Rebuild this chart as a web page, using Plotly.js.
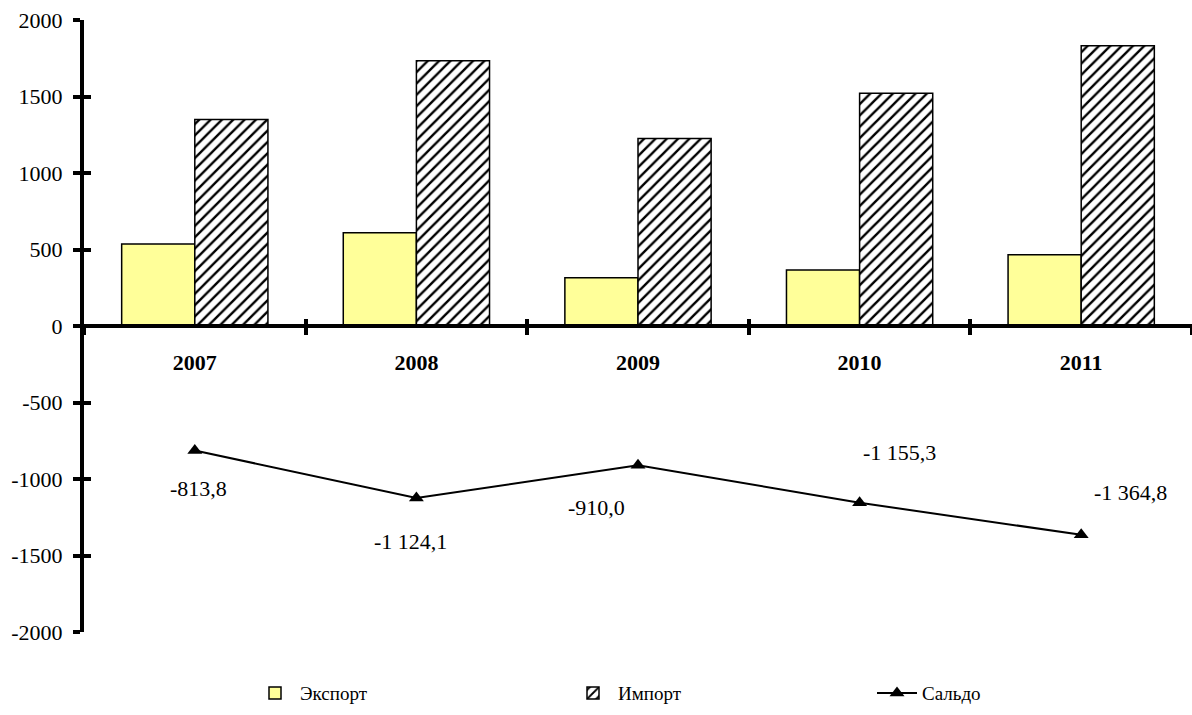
<!DOCTYPE html>
<html>
<head>
<meta charset="utf-8">
<script src="https://cdn.plot.ly/plotly-3.0.1.min.js"></script>
<style>html,body{margin:0;padding:0;background:#fff;}#chart{width:1192px;height:715px;}</style>
</head>
<body>
<div id="chart"></div>
<script>
const years = ['2007', '2008', '2009', '2010', '2011'];
const exportVals = [536, 610, 316, 366, 466];
const importVals = [1350, 1734, 1226, 1521, 1831];
const saldoVals = [-813.8, -1124.1, -910.0, -1155.3, -1364.8];
const yTickVals = [-2000, -1500, -1000, -500, 0, 500, 1000, 1500, 2000];
const yTickText = yTickVals.map(v => String(v));
const seriesNames = ['Экспорт', 'Импорт', 'Сальдо'];

function fmt(v) {
  const neg = v < 0;
  const parts = Math.abs(v).toFixed(1).split('.');
  const intPart = parts[0].replace(/\B(?=(\d{3})+(?!\d))/g, ' ');
  return (neg ? '-' : '') + intPart + ',' + parts[1];
}

const labelShift = [[4, -38], [-6, -44], [-42, -42], [40, 50], [49, 42]];
const FONT = '"Liberation Serif", "Times New Roman", serif';

const traces = [
  {type: 'bar', name: seriesNames[0], x: years, y: exportVals, legend: 'legend',
    marker: {color: '#FFFF99', line: {color: '#000', width: 1.5}}, hoverinfo: 'skip'},
  {type: 'bar', name: seriesNames[1], x: years, y: importVals, legend: 'legend2',
    marker: {color: '#fff', line: {color: '#000', width: 1.5},
      pattern: {shape: '/', fgcolor: '#000', bgcolor: '#fff', size: 8, solidity: 0.3}}, hoverinfo: 'skip'},
  {type: 'scatter', mode: 'lines+markers', name: seriesNames[2], x: years, y: saldoVals, legend: 'legend3',
    line: {color: '#000', width: 2}, marker: {symbol: 'triangle-up', size: 13, color: '#000'}, hoverinfo: 'skip'},
  {type: 'scatter', mode: 'none', x: years, y: exportVals, xaxis: 'x2', yaxis: 'y2', showlegend: false, hoverinfo: 'skip'}
];

// category axes treat numeric-looking strings as indices, so position labels by category index
const annotations = years.map((yr, i) => ({
  xref: 'x', yref: 'y', x: years.indexOf(yr), y: saldoVals[i], text: fmt(saldoVals[i]), showarrow: false,
  xshift: labelShift[i][0], yshift: labelShift[i][1], font: {family: FONT, size: 22, color: '#000'}
}));

function legendAt(xpx) {
  return {orientation: 'h', x: (xpx - 84) / 1108, xanchor: 'left', y: -0.1, yanchor: 'middle',
    itemwidth: 40, bgcolor: 'rgba(0,0,0,0)', font: {family: FONT, size: 19, color: '#000'}};
}

const layout = {
  width: 1192, height: 715, margin: {l: 84, r: 0, t: 20, b: 83},
  paper_bgcolor: '#fff', plot_bgcolor: '#fff',
  font: {family: FONT, size: 22, color: '#000'},
  barmode: 'group', bargap: 0.34, bargroupgap: 0, showlegend: true,
  legend: legendAt(250), legend2: legendAt(568), legend3: legendAt(872),
  xaxis: {type: 'category', range: [-0.5, 4.5], anchor: 'free', position: 0.5,
    tickson: 'boundaries', ticks: 'outside', ticklen: 7, tickwidth: 4, tickcolor: '#000',
    showline: true, linewidth: 4, linecolor: '#000', showgrid: false, zeroline: false,
    tickfont: {family: FONT, size: 22, weight: 'bold', color: '#000'}, ticklabelstandoff: 16},
  xaxis2: {type: 'category', overlaying: 'x', range: [-0.5, 4.5], anchor: 'free', position: 0.5,
    tickson: 'boundaries', ticks: 'inside', ticklen: 7, tickwidth: 4, tickcolor: '#000',
    showticklabels: false, showline: false, showgrid: false, zeroline: false},
  yaxis: {range: [-2000, 2000], tickvals: yTickVals, ticktext: yTickText,
    ticks: 'outside', ticklen: 7, tickwidth: 4, tickcolor: '#000',
    showline: true, linewidth: 4, linecolor: '#000', showgrid: false, zeroline: false,
    tickfont: {family: FONT, size: 22, color: '#000'}, ticklabelstandoff: 6},
  yaxis2: {overlaying: 'y', range: [-2000, 2000], anchor: 'x', side: 'left', tickvals: yTickVals,
    ticks: 'inside', ticklen: 7, tickwidth: 4, tickcolor: '#000',
    showticklabels: false, showline: false, showgrid: false, zeroline: false},
  annotations: annotations
};

Plotly.newPlot('chart', traces, layout, {displayModeBar: false, staticPlot: true});
</script>
</body>
</html>
